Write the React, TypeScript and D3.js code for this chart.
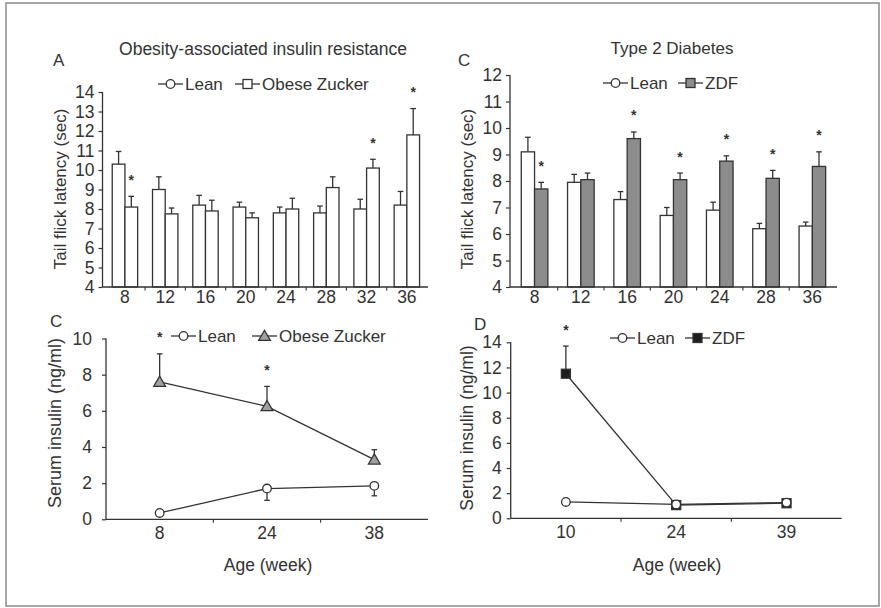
import React, { useEffect, useRef } from "react";
import * as d3 from "d3";

// A: tail flick latency, obesity model
const agesA = ["8", "12", "16", "20", "24", "28", "32", "36"];
const leanA = [10.3, 9.0, 8.2, 8.1, 7.8, 7.8, 8.0, 8.2];
const leanAErr = [0.65, 0.65, 0.5, 0.25, 0.3, 0.35, 0.5, 0.7];
const obeseA = [8.1, 7.75, 7.9, 7.55, 8.0, 9.1, 10.1, 11.8];
const obeseAErr = [0.55, 0.3, 0.55, 0.25, 0.55, 0.55, 0.45, 1.35];
const obeseAStar = [true, false, false, false, false, false, true, true];
const ticksA = [4, 5, 6, 7, 8, 9, 10, 11, 12, 13, 14];

// C (top): tail flick latency, type 2 diabetes
const agesC = ["8", "12", "16", "20", "24", "28", "36"];
const leanC = [9.1, 7.95, 7.3, 6.7, 6.9, 6.2, 6.3];
const leanCErr = [0.55, 0.3, 0.3, 0.3, 0.3, 0.2, 0.15];
const zdfC = [7.7, 8.05, 9.6, 8.05, 8.75, 8.1, 8.55];
const zdfCErr = [0.25, 0.25, 0.25, 0.25, 0.2, 0.3, 0.55];
const zdfCStar = [true, false, true, true, true, true, true];
const ticksC = [4, 5, 6, 7, 8, 9, 10, 11, 12];

// C (bottom): serum insulin, obesity model
const agesE = ["8", "24", "38"];
const leanE = [0.35, 1.7, 1.85];
const leanEErr = [0, 0.65, 0.55];
const obeseE = [7.6, 6.25, 3.3];
const obeseEErr = [1.55, 1.1, 0.55];
const obeseEStar = [true, true, false];
const ticksE = [0, 2, 4, 6, 8, 10];

// D: serum insulin, type 2 diabetes
const agesD = ["10", "24", "39"];
const leanD = [1.3, 1.1, 1.25];
const zdfD = [11.5, 1.05, 1.2];
const zdfDErr = [2.2, 0, 0];
const zdfDStar = [true, false, false];
const ticksD = [0, 2, 4, 6, 8, 10, 12, 14];

const ink = "#333";
const font = "Arial, 'Liberation Sans', Helvetica, sans-serif";

type Sel = d3.Selection<SVGGElement, unknown, null, undefined>;

function txt(g: Sel, x: number, y: number, s: string, size = 17, anchor = "start") {
  return g.append("text").attr("x", x).attr("y", y).attr("text-anchor", anchor)
    .attr("dominant-baseline", "central").attr("font-size", size).attr("font-family", font)
    .attr("fill", ink).text(s);
}

function marker(g: Sel, kind: string, cx: number, cy: number, fill: string) {
  if (kind === "circle") {
    g.append("circle").attr("cx", cx).attr("cy", cy).attr("r", 4.3)
      .attr("fill", fill).attr("stroke", ink).attr("stroke-width", 1.3);
  } else if (kind === "square") {
    g.append("rect").attr("x", cx - 4.5).attr("y", cy - 4.5).attr("width", 9).attr("height", 9)
      .attr("fill", fill).attr("stroke", ink).attr("stroke-width", 1.3);
  } else {
    g.append("path").attr("d", d3.symbol(d3.symbolTriangle, 60)()!)
      .attr("transform", `translate(${cx},${cy + 1})`)
      .attr("fill", fill).attr("stroke", ink).attr("stroke-width", 1.3);
  }
}

function legendItem(g: Sel, x: number, y: number, kind: string, fill: string, label: string) {
  g.append("line").attr("x1", x).attr("x2", x + 25).attr("y1", y).attr("y2", y)
    .attr("stroke", ink).attr("stroke-width", 1.3);
  marker(g, kind, x + 12.5, y, fill);
  txt(g, x + 27, y, label, 17);
}

function axes(g: Sel, x: d3.ScaleBand<string>, y: d3.ScaleLinear<number, number>,
  ticks: number[], x0: number, x1: number, labelGap: number, xLabelGap: number) {
  const y0 = y(y.domain()[0]);
  g.append("line").attr("x1", x0).attr("x2", x0).attr("y1", y(y.domain()[1])).attr("y2", y0)
    .attr("stroke", ink).attr("stroke-width", 1.3);
  g.append("line").attr("x1", x0).attr("x2", x1).attr("y1", y0).attr("y2", y0)
    .attr("stroke", ink).attr("stroke-width", 1.3);

  const ya = g.append("g").attr("transform", `translate(${x0},0)`)
    .call(d3.axisLeft(y).tickValues(ticks).tickSize(4).tickSizeOuter(0).tickPadding(labelGap));
  ya.select(".domain").remove();
  ya.selectAll("line").attr("stroke", ink).attr("stroke-width", 1.2);
  ya.selectAll("text").attr("font-size", 17.5).attr("font-family", font).attr("fill", ink);

  const xa = g.append("g").attr("transform", `translate(0,${y0})`)
    .call(d3.axisBottom(x).tickSize(0).tickPadding(xLabelGap));
  xa.select(".domain").remove();
  xa.selectAll("text").attr("font-size", 17.5).attr("font-family", font).attr("fill", ink);

  // small ticks between categories
  const bounds = x.domain().slice(1).map((d) => x(d)!);
  g.selectAll(null).data(bounds).join("line")
    .attr("x1", (d) => d).attr("x2", (d) => d).attr("y1", y0).attr("y2", y0 + 3.5)
    .attr("stroke", ink).attr("stroke-width", 1.1);
}

function errBar(g: Sel, cx: number, from: number, to: number) {
  g.append("line").attr("x1", cx).attr("x2", cx).attr("y1", from).attr("y2", to)
    .attr("stroke", ink).attr("stroke-width", 1.3);
  g.append("line").attr("x1", cx - 2.8).attr("x2", cx + 2.8).attr("y1", to).attr("y2", to)
    .attr("stroke", ink).attr("stroke-width", 1.3);
}

function star(g: Sel, cx: number, top: number) {
  g.append("text").attr("x", cx).attr("y", top - 4.5).attr("text-anchor", "middle")
    .attr("font-size", 14).attr("font-weight", "bold").attr("font-family", font)
    .attr("fill", ink).text("*");
}

function barPanel(g: Sel, p: {
  ages: string[]; a: number[]; aErr: number[]; b: number[]; bErr: number[]; bStar: boolean[];
  bFill: string; xRange: [number, number]; x0: number; x1: number;
  yDomain: [number, number]; yRange: [number, number]; ticks: number[]; barW: number;
}) {
  const x = d3.scaleBand().domain(p.ages).range(p.xRange);
  const y = d3.scaleLinear().domain(p.yDomain).range(p.yRange);
  const mid = (d: string) => x(d)! + x.bandwidth() / 2;
  const base = y(p.yDomain[0]);
  const series = [
    { v: p.a, e: p.aErr, fill: "#fff", off: -p.barW, stars: null as boolean[] | null },
    { v: p.b, e: p.bErr, fill: p.bFill, off: 0, stars: p.bStar },
  ];
  series.forEach((s) => {
    g.selectAll(null).data(p.ages).join("rect")
      .attr("x", (d) => mid(d) + s.off)
      .attr("y", (d, i) => y(s.v[i]))
      .attr("width", p.barW)
      .attr("height", (d, i) => base - y(s.v[i]))
      .attr("fill", s.fill).attr("stroke", ink).attr("stroke-width", 1.3);
    p.ages.forEach((d, i) => {
      const cx = mid(d) + s.off + p.barW / 2;
      errBar(g, cx, y(s.v[i]), y(s.v[i] + s.e[i]));
      if (s.stars && s.stars[i]) star(g, cx, y(s.v[i] + s.e[i]) - 7);
    });
  });
  axes(g, x, y, p.ticks, p.x0, p.x1, 4, 4);
}

function linePanel(g: Sel, p: {
  ages: string[]; lean: number[]; leanErr: number[]; other: number[]; otherErr: number[];
  otherStar: boolean[]; kind: string; fill: string; xRange: [number, number];
  yDomain: [number, number]; yRange: [number, number]; ticks: number[]; labelGap: number;
}) {
  const x = d3.scaleBand().domain(p.ages).range(p.xRange);
  const y = d3.scaleLinear().domain(p.yDomain).range(p.yRange);
  const mid = (d: string) => x(d)! + x.bandwidth() / 2;
  axes(g, x, y, p.ticks, p.xRange[0], p.xRange[1], p.labelGap, 7);
  const line = d3.line<number>().x((v, i) => mid(p.ages[i])).y((v) => y(v));

  p.ages.forEach((d, i) => {
    if (p.otherErr[i] > 0) errBar(g, mid(d), y(p.other[i]), y(p.other[i] + p.otherErr[i]));
    if (p.leanErr[i] > 0) errBar(g, mid(d), y(p.lean[i]), y(p.lean[i] - p.leanErr[i]));
    if (p.otherStar[i]) star(g, mid(d), y(p.other[i] + p.otherErr[i]) - 7);
  });
  g.append("path").attr("d", line(p.other)!).attr("fill", "none")
    .attr("stroke", ink).attr("stroke-width", 1.3);
  g.append("path").attr("d", line(p.lean)!).attr("fill", "none")
    .attr("stroke", ink).attr("stroke-width", 1.3);
  p.ages.forEach((d, i) => marker(g, p.kind, mid(d), y(p.other[i]), p.fill));
  p.ages.forEach((d, i) => marker(g, "circle", mid(d), y(p.lean[i]), "#fff"));
}

const App = () => {
  const svgRef = useRef<SVGSVGElement>(null);

  useEffect(() => {
    const svg = d3.select(svgRef.current);
    svg.selectAll("*").remove();
    const root = svg.append("g") as unknown as Sel;

    root.append("rect").attr("x", 6).attr("y", 3).attr("width", 873).attr("height", 603)
      .attr("fill", "#fff").attr("stroke", "#8a8a8a").attr("stroke-width", 1.5);

    // top left
    const gA = root.append("g");
    barPanel(gA, {
      ages: agesA, a: leanA, aErr: leanAErr, b: obeseA, bErr: obeseAErr, bStar: obeseAStar,
      bFill: "#fff", xRange: [104.8, 427], x0: 102.5, x1: 428,
      yDomain: [4, 14], yRange: [287, 92], ticks: ticksA, barW: 12.7,
    });
    txt(gA, 53, 60, "A");
    txt(gA, 263, 49, "Obesity-associated insulin resistance", 17.5, "middle");
    legendItem(gA, 158, 84, "circle", "#fff", "Lean");
    legendItem(gA, 235, 84, "square", "#fff", "Obese Zucker");
    txt(gA, 60, 189, "Tail flick latency (sec)").attr("text-anchor", "middle")
      .attr("transform", "rotate(-90,60,189)");

    // top right
    const gC = root.append("g");
    barPanel(gC, {
      ages: agesC, a: leanC, aErr: leanCErr, b: zdfC, bErr: zdfCErr, bStar: zdfCStar,
      bFill: "#8c8c8c", xRange: [511.4, 835.5], x0: 510, x1: 837,
      yDomain: [4, 12], yRange: [287, 75], ticks: ticksC, barW: 13.3,
    });
    txt(gC, 458, 60, "C");
    txt(gC, 672, 48, "Type 2 Diabetes", 17, "middle");
    legendItem(gC, 603, 83, "circle", "#fff", "Lean");
    legendItem(gC, 678, 83, "square", "#8c8c8c", "ZDF");
    txt(gC, 467, 189, "Tail flick latency (sec)").attr("text-anchor", "middle")
      .attr("transform", "rotate(-90,467,189)");

    // bottom left
    const gE = root.append("g");
    linePanel(gE, {
      ages: agesE, lean: leanE, leanErr: leanEErr, other: obeseE, otherErr: obeseEErr,
      otherStar: obeseEStar, kind: "triangle", fill: "#a0a0a0", xRange: [106, 428],
      yDomain: [0, 10], yRange: [519.3, 338.5], ticks: ticksE, labelGap: 10,
    });
    txt(gE, 50, 321, "C");
    legendItem(gE, 171, 336, "circle", "#fff", "Lean");
    legendItem(gE, 252, 336, "triangle", "#a0a0a0", "Obese Zucker");
    txt(gE, 55, 423, "Serum insulin (ng/ml)", 18).attr("text-anchor", "middle")
      .attr("transform", "rotate(-90,55,423)");
    txt(gE, 268, 565, "Age (week)", 17.5, "middle");

    // bottom right
    const gD = root.append("g");
    linePanel(gD, {
      ages: agesD, lean: leanD, leanErr: [0, 0, 0], other: zdfD, otherErr: zdfDErr,
      otherStar: zdfDStar, kind: "square", fill: "#1e1e1e", xRange: [510.7, 841.7],
      yDomain: [0, 14], yRange: [518.3, 342.3], ticks: ticksD, labelGap: 5,
    });
    txt(gD, 474, 324, "D");
    legendItem(gD, 610, 338, "circle", "#fff", "Lean");
    legendItem(gD, 685, 338, "square", "#1e1e1e", "ZDF");
    txt(gD, 467, 428, "Serum insulin (ng/ml)", 17.5).attr("text-anchor", "middle")
      .attr("transform", "rotate(-90,467,428)");
    txt(gD, 677, 565, "Age (week)", 17.5, "middle");
  }, []);

  return (
    <svg ref={svgRef} width={881} height={608}
      style={{ position: "absolute", left: 0, top: 0, background: "#fff" }} />
  );
};

export default App;
